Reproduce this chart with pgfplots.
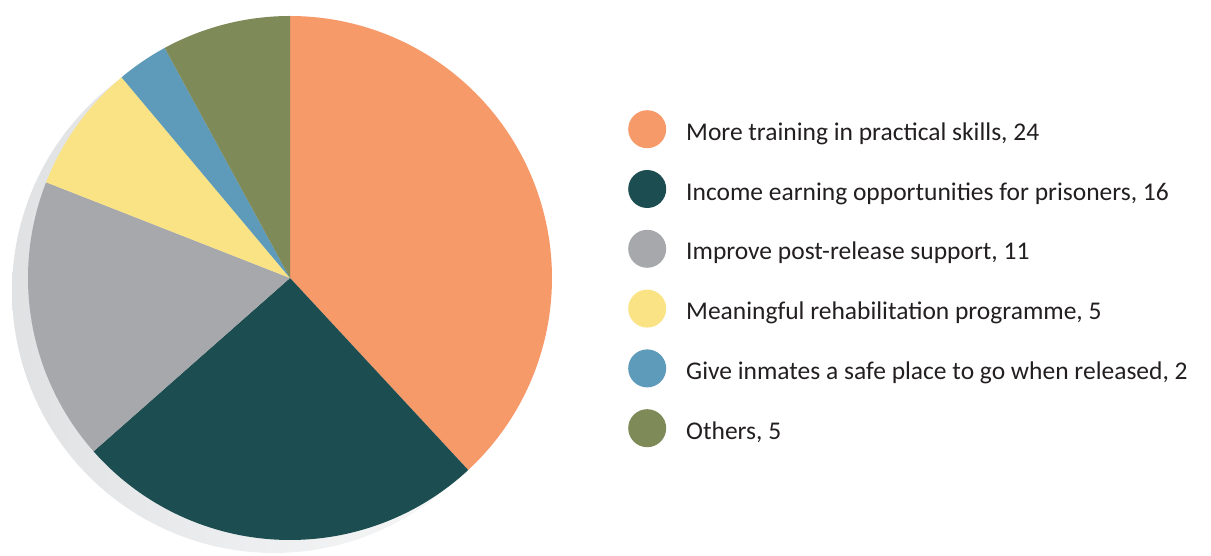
\documentclass[border=0pt]{standalone}
\usepackage{pgfplots}
\pgfplotsset{compat=1.18}
\usepackage{pgfplotstable}
\usepackage{fontspec}
\setmainfont{Carlito}
\definecolor{cOrange}{HTML}{F79A6A}
\definecolor{cTeal}{HTML}{1C4D50}
\definecolor{cGrey}{HTML}{A7A8AC}
\definecolor{cYellow}{HTML}{F9E385}
\definecolor{cBlue}{HTML}{5E9BBA}
\definecolor{cOlive}{HTML}{7E8A58}
\definecolor{cShadow}{HTML}{D3D4D6}
\definecolor{cShadowMid}{HTML}{EDEEEF}
\definecolor{cText}{HTML}{231F20}
\pgfdeclarehorizontalshading{shadowshade}{100bp}{color(0bp)=(cShadow); color(48bp)=(cShadowMid); color(75bp)=(white!98!black); color(100bp)=(white)}

\pgfplotstableread{
value
24
16
11
5
2
5
}\piedata

\begin{document}
\begin{tikzpicture}
\pgfplotstablegetelem{0}{value}\of\piedata \let\vA\pgfplotsretval
\pgfplotstablegetelem{1}{value}\of\piedata \let\vB\pgfplotsretval
\pgfplotstablegetelem{2}{value}\of\piedata \let\vC\pgfplotsretval
\pgfplotstablegetelem{3}{value}\of\piedata \let\vD\pgfplotsretval
\pgfplotstablegetelem{4}{value}\of\piedata \let\vE\pgfplotsretval
\pgfplotstablegetelem{5}{value}\of\piedata \let\vF\pgfplotsretval
\pgfmathsetmacro\tot{\vA+\vB+\vC+\vD+\vE+\vF}
\pgfmathsetmacro\aA{90-360*\vA/\tot}
\pgfmathsetmacro\aB{\aA-360*\vB/\tot}
\pgfmathsetmacro\aC{\aB-360*\vC/\tot}
\pgfmathsetmacro\aD{\aC-360*\vD/\tot}
\pgfmathsetmacro\aE{\aD-360*\vE/\tot}
\pgfmathsetmacro\aF{\aE-360*\vF/\tot}
\begin{axis}[
  scale only axis, width=1211pt, height=556pt,
  xmin=0, xmax=1211, ymin=0, ymax=556,
  hide axis, clip=false,
  legend style={draw=none, fill=none, at={(axis cs:628,446)}, anchor=north west,
    font=\fontsize{25.5}{30}\selectfont, text=cText, row sep=21.8pt,
    inner sep=0pt, nodes={inner sep=0pt}},
  legend cell align=left,
  /tikz/every odd column/.append style={column sep=20pt},
  legend image code/.code={\fill[#1] (19pt,0.3em) circle (19pt);},
]
% page frame (invisible) to fix the bounding box
\addplot[forget plot, draw=none] coordinates {(0,0) (1211,556)};
% shadow
\addplot[forget plot, draw=none, shade, shading=shadowshade,
  domain=0:360, samples=181, variable=\t]
  ({274+262*cos(t)},{265+262*sin(t)}) -- cycle;
\addplot[fill=cOrange, draw=none, domain=90:\aA, samples=120, variable=\t]
  ({290+262*cos(t)},{278+262*sin(t)}) -- (axis cs:290,278) -- cycle;
\addlegendentry{More training in practical skills, 24}
\addplot[fill=cTeal, draw=none, domain=\aA:\aB, samples=90, variable=\t]
  ({290+262*cos(t)},{278+262*sin(t)}) -- (axis cs:290,278) -- cycle;
\addlegendentry{Income earning opportunities for prisoners, 16}
\addplot[fill=cGrey, draw=none, domain=\aB:\aC, samples=60, variable=\t]
  ({290+262*cos(t)},{278+262*sin(t)}) -- (axis cs:290,278) -- cycle;
\addlegendentry{Improve post-release support, 11}
\addplot[fill=cYellow, draw=none, domain=\aC:\aD, samples=30, variable=\t]
  ({290+262*cos(t)},{278+262*sin(t)}) -- (axis cs:290,278) -- cycle;
\addlegendentry{Meaningful rehabilitation programme, 5}
\addplot[fill=cBlue, draw=none, domain=\aD:\aE, samples=15, variable=\t]
  ({290+262*cos(t)},{278+262*sin(t)}) -- (axis cs:290,278) -- cycle;
\addlegendentry{Give inmates a safe place to go when released, 2}
\addplot[fill=cOlive, draw=none, domain=\aE:\aF, samples=30, variable=\t]
  ({290+262*cos(t)},{278+262*sin(t)}) -- (axis cs:290,278) -- cycle;
\addlegendentry{Others, 5}
\end{axis}
\end{tikzpicture}
\end{document}
